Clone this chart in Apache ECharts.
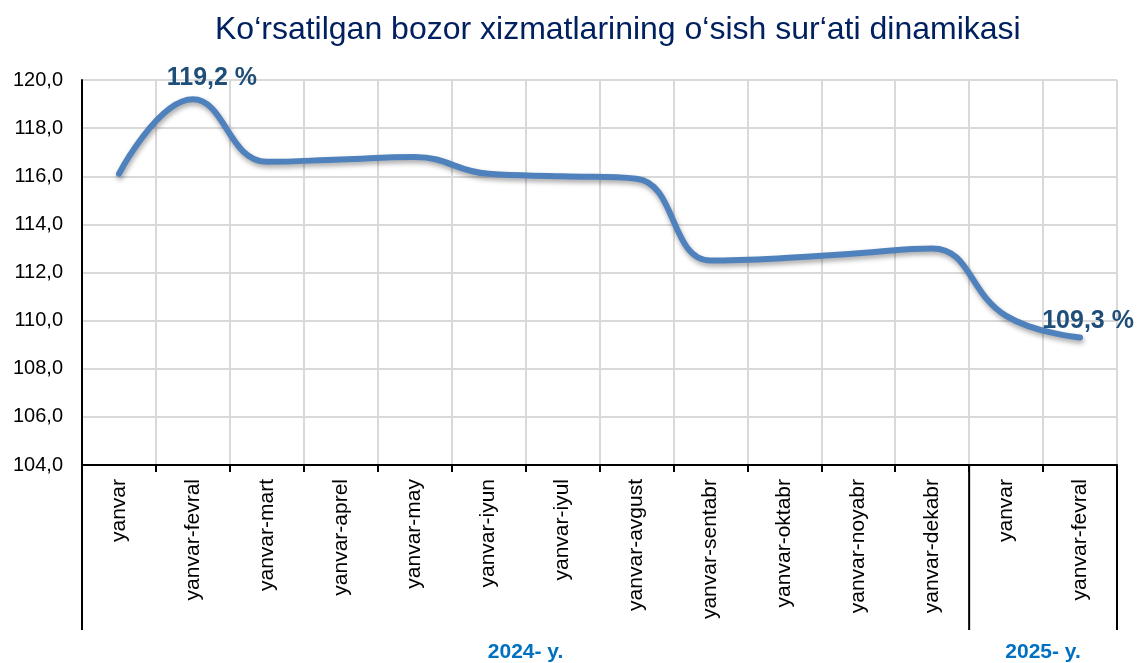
<!DOCTYPE html>
<html>
<head>
<meta charset="utf-8">
<script src="https://cdn.jsdelivr.net/npm/echarts@6/dist/echarts.min.js"></script>
<style>
html,body{margin:0;padding:0;background:#fff;}
#chart{width:1138px;height:663px;}
</style>
</head>
<body>
<div id="chart"></div>
<script>
var titleText = 'Ko\u2018rsatilgan bozor xizmatlarining o\u2018sish sur\u2018ati dinamikasi';
var categories = ['yanvar','yanvar-fevral','yanvar-mart','yanvar-aprel','yanvar-may','yanvar-iyun','yanvar-iyul','yanvar-avgust','yanvar-sentabr','yanvar-oktabr','yanvar-noyabr','yanvar-dekabr','yanvar','yanvar-fevral'];
var values = [116.1, 119.2, 116.6, 116.7, 116.8, 116.1, 116.0, 115.9, 112.5, 112.6, 112.8, 113.0, 110.2, 109.3];
var labelIndexes = [1, 13];
var groupNames = ['2024- y.', '2025- y.'];
var groupSizes = [12, 2];
var yMin = 104, yMax = 120, yStep = 2;

function fmt(v){ return v.toFixed(1).replace('.', ','); }

var seriesData = values.map(function(v, i){
  if (labelIndexes.indexOf(i) >= 0) {
    return {value: v, label: {show: true, formatter: fmt(v) + ' %',
      position: i === 1 ? [20, -8] : [9, -3], align: 'center', verticalAlign: 'bottom',
      color: '#1F4E79', fontSize: 25, fontWeight: 'bold', fontFamily: 'Liberation Sans, Arial'}};
  }
  return v;
});

var chart = echarts.init(document.getElementById('chart'));
chart.setOption({
  animation: false,
  backgroundColor: '#fff',
  title: {text: titleText, left: 210, top: 9,
    textStyle: {fontSize: 32, fontWeight: 'normal', color: '#002060', fontFamily: 'Liberation Sans, Arial'}},
  grid: {left: 82, right: 21, top: 80, bottom: 198},
  xAxis: {
    type: 'category', data: categories, boundaryGap: true,
    axisLine: {show: true, lineStyle: {color: '#000', width: 2}},
    axisTick: {show: true, length: 7, lineStyle: {color: '#000', width: 2}},
    axisLabel: {rotate: 90, fontSize: 21, color: '#000', margin: 14, fontFamily: 'Liberation Sans, Arial', interval: 0},
    splitLine: {show: true, lineStyle: {color: '#d9d9d9', width: 2}}
  },
  yAxis: {
    type: 'value', min: yMin, max: yMax, interval: yStep,
    axisLine: {show: true, lineStyle: {color: '#000', width: 2}},
    axisTick: {show: false},
    axisLabel: {fontSize: 20, color: '#000', margin: 19, fontFamily: 'Liberation Sans, Arial', formatter: fmt},
    splitLine: {show: true, lineStyle: {color: '#d9d9d9', width: 2}}
  },
  series: [{
    type: 'line', data: seriesData, smooth: 0.45, symbol: 'circle', symbolSize: 2, showSymbol: true,
    itemStyle: {color: '#4F81BD'},
    lineStyle: {color: '#4F81BD', width: 6, shadowColor: 'rgba(0,0,0,0.35)', shadowBlur: 5, shadowOffsetY: 3, shadowOffsetX: 1, cap: 'round'},
    labelLayout: {hideOverlap: false},
    z: 5
  }]
});

// group separators and group labels, positioned from the axis scale
var p0 = chart.convertToPixel({gridIndex: 0}, [0, yMin]);
var p1 = chart.convertToPixel({gridIndex: 0}, [1, yMin]);
var step = p1[0] - p0[0];
var axisY = p0[1];
var bottomY = axisY + 165;
var elements = [];
var start = 0;
var bounds = [0];
groupSizes.forEach(function(s){ start += s; bounds.push(start); });
bounds.forEach(function(b){
  var x = p0[0] - step / 2 + b * step;
  elements.push({type: 'line', shape: {x1: x, y1: axisY, x2: x, y2: bottomY},
    style: {stroke: '#000', lineWidth: 2}, z: 10});
});
for (var g = 0; g < groupNames.length; g++) {
  var xa = p0[0] - step / 2 + bounds[g] * step;
  var xb = p0[0] - step / 2 + bounds[g + 1] * step;
  elements.push({type: 'text', x: (xa + xb) / 2, y: bottomY + 22,
    style: {text: groupNames[g], fill: '#0070C0', font: 'bold 21px "Liberation Sans", Arial',
      textAlign: 'center', textVerticalAlign: 'middle'}, z: 10});
}
chart.setOption({graphic: {elements: elements}});
</script>
</body>
</html>
